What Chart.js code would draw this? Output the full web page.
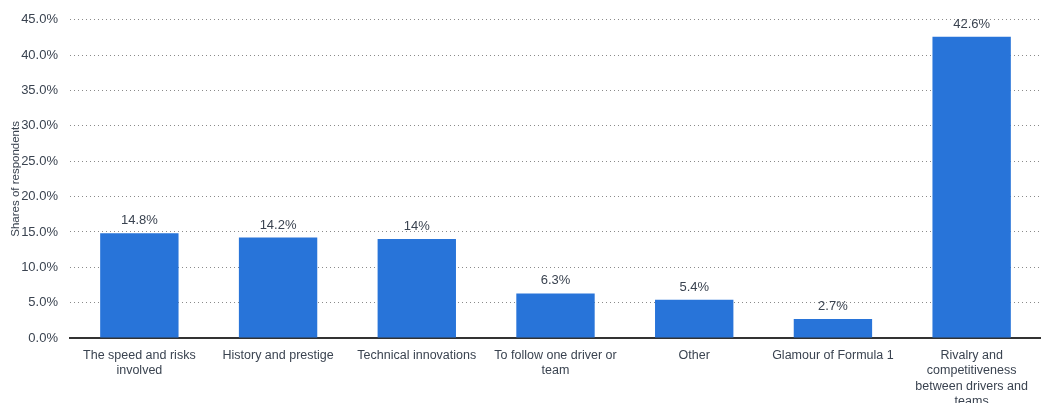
<!DOCTYPE html>
<html>
<head>
<meta charset="utf-8">
<script src="https://cdn.jsdelivr.net/npm/chart.js@4"></script>
<style>
  html, body { margin: 0; padding: 0; background: #fff; }
  #wrap { width: 1041px; height: 403px; }
</style>
</head>
<body>
<div id="wrap"><canvas id="reasonsChart" width="1041" height="403"></canvas></div>
<script>
var categories = [
	['The speed and risks', 'involved'],
	'History and prestige',
	'Technical innovations',
	['To follow one driver or', 'team'],
	'Other',
	'Glamour of Formula 1',
	['Rivalry and', 'competitiveness', 'between drivers and', 'teams']
];
var shares = [14.8, 14.2, 14, 6.3, 5.4, 2.7, 42.6];
var yTicks = [0, 5, 10, 15, 20, 25, 30, 35, 40, 45];

var textColor = '#3a4350';
var fontFamily = '"Liberation Sans", Arial, sans-serif';

// value labels above each bar
var barLabels = {
	id: 'barLabels',
	afterDatasetsDraw: function(chart) {
		var ctx = chart.ctx;
		var meta = chart.getDatasetMeta(0);
		ctx.save();
		ctx.font = '13px ' + fontFamily;
		ctx.fillStyle = textColor;
		ctx.textAlign = 'center';
		ctx.textBaseline = 'alphabetic';
		meta.data.forEach(function(bar, i) {
			ctx.fillText(shares[i] + '%', bar.x, bar.y - 9);
		});
		ctx.restore();
	}
};

var ctx = document.getElementById('reasonsChart').getContext('2d');
var reasonsChart = new Chart(ctx, {
	type: 'bar',
	data: {
		labels: categories,
		datasets: [{
			data: shares,
			backgroundColor: '#2874d9',
			categoryPercentage: 1,
			barPercentage: 0.565
		}]
	},
	options: {
		responsive: false,
		animation: false,
		layout: { padding: { top: 17, right: 0, left: 0, bottom: 0 } },
		plugins: { legend: { display: false }, tooltip: { enabled: false } },
		scales: {
			x: {
				grid: { display: false, drawTicks: false },
				border: { color: '#333', width: 2 },
				ticks: {
					color: textColor,
					font: { family: fontFamily, size: 12.5, lineHeight: 1.22 },
					padding: 10,
					maxRotation: 0,
					autoSkip: false
				},
				afterFit: function(axis) { axis.height = 65; }
			},
			y: {
				min: 0,
				max: 45,
				afterBuildTicks: function(axis) {
					axis.ticks = yTicks.map(function(v) { return { value: v }; });
				},
				grid: {
					color: '#8a8a8a',
					lineWidth: 1,
					drawTicks: false
				},
				border: { display: false, dash: [1, 3] },
				ticks: {
					color: textColor,
					font: { family: fontFamily, size: 13 },
					padding: 12,
					callback: function(v) { return v.toFixed(1) + '%'; }
				},
				title: {
					display: true,
					text: 'Shares of respondents',
					color: textColor,
					font: { family: fontFamily, size: 11.5 },
					padding: { top: 9, bottom: 0 }
				},
				afterFit: function(axis) { axis.width = 70; }
			}
		}
	},
	plugins: [barLabels]
});
</script>
</body>
</html>
